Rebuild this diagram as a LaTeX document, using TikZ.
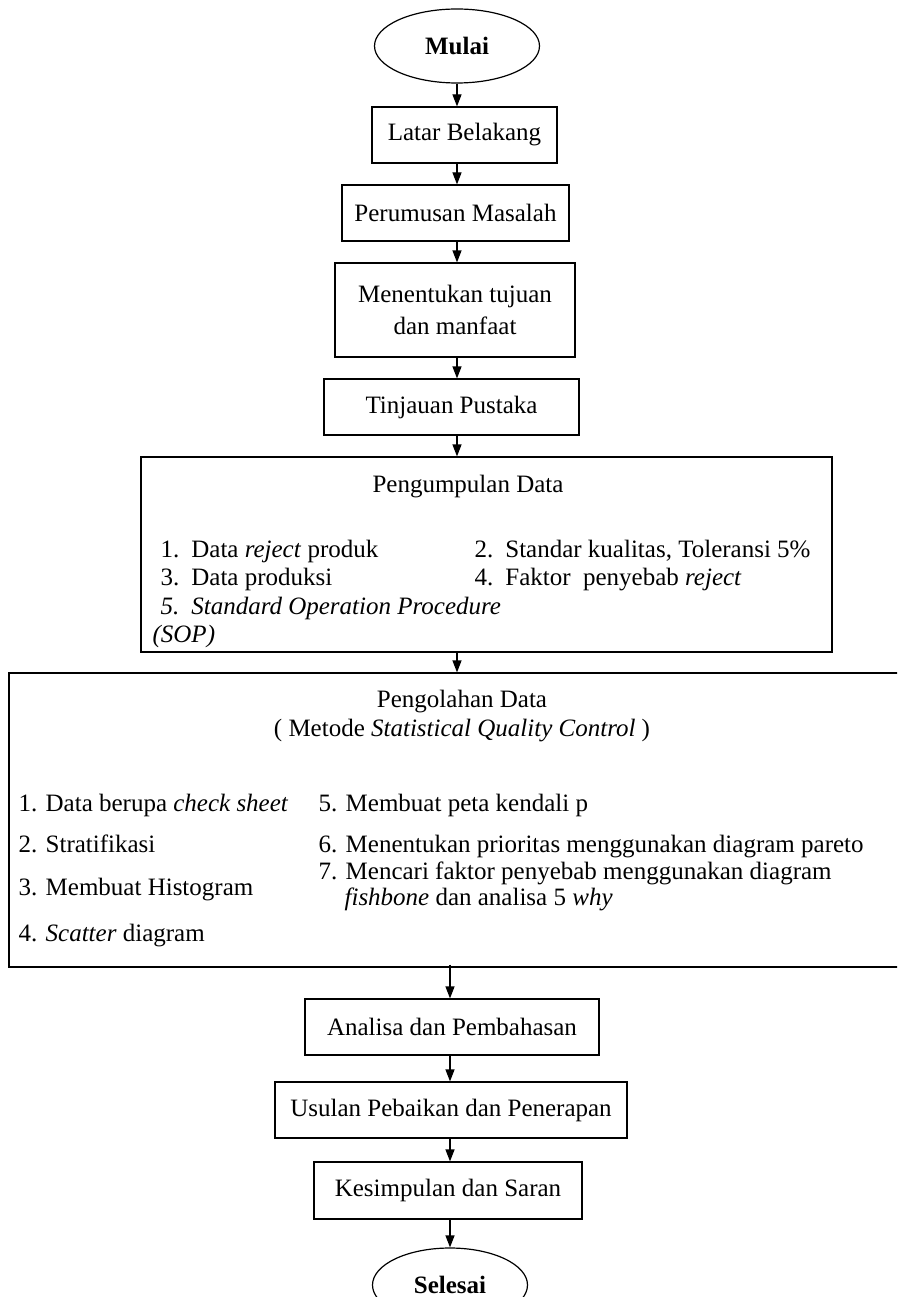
\documentclass[tikz,border=0pt]{standalone}
\usepackage{fontspec}
\setmainfont{Liberation Serif}
\usetikzlibrary{arrows.meta,shapes.geometric}
\begin{document}
\begin{tikzpicture}[x=1pt,y=-1pt,
  line width=1.2pt,
  txt/.style={font=\fontsize{25}{30}\selectfont, inner sep=0pt},
  box/.style={draw, inner sep=0pt, font=\fontsize{25}{30}\selectfont, align=center},
  term/.style={draw, ellipse, inner sep=0pt, font=\bfseries\fontsize{25}{30}\selectfont},
  arr/.style={-{Triangle[width=9pt,length=12pt]}},
  item/.style={anchor=base west, inner sep=0pt, font=\fontsize{25}{30}\selectfont}]
\useasboundingbox (0,0) rectangle (897,1297);
\clip (0,0) rectangle (897,1297);

\node[term, minimum width=165pt, minimum height=74pt] (mulai) at (457,46) {Mulai};
\node[box, minimum width=185pt, minimum height=56pt] (latar) at (464.5,135) {Latar Belakang};
\node[box, minimum width=227pt, minimum height=56pt] (rumus) at (455.5,213) {Perumusan Masalah};
\node[box, minimum width=240pt, minimum height=94pt] (tujuan) at (455,310) {Menentukan tujuan\\[2pt]dan manfaat};
\node[box, minimum width=255pt, minimum height=56pt] (tinjau) at (451.5,407) {Tinjauan Pustaka};

\node[draw, inner sep=0pt, minimum width=691pt, minimum height=195pt] (kumpul) at (486.5,554.5) {};
\node[txt] (kumpult) at (468,487) {Pengumpulan Data};
\node[item] (k1) at (160,557) {1.\hspace{12pt}Data \textit{reject} produk};
\node[item] (k3) at (160,585) {3.\hspace{12pt}Data produksi};
\node[item] (k5) at (160,614) {\textit{5.\hspace{12pt}Standard Operation Procedure}};
\node[item] (k5b) at (152,642) {\textit{(SOP)}};
\node[item] (k2) at (474,557) {2.\hspace{12pt}Standar kualitas, Toleransi 5\%};
\node[item] (k4) at (474,585) {4.\hspace{12pt}Faktor\ \ penyebab \textit{reject}};

\node[draw, inner sep=0pt, minimum width=1000pt, minimum height=294pt] (olah) at (509,820) {};
\node[txt] (olaht) at (462,702) {Pengolahan Data};
\node[txt] (olahs) at (462,731) {( Metode \textit{Statistical Quality Control} )};
\node[item] (o1) at (18,811) {1. Data berupa \textit{check sheet}};
\node[item] (o2) at (18,852) {2. Stratifikasi};
\node[item] (o3) at (18,895) {3. Membuat Histogram};
\node[item] (o4) at (18,941) {4. \textit{Scatter} diagram};
\node[item] (o5) at (318,811) {5. Membuat peta kendali p};
\node[item] (o6) at (318,852) {6. Menentukan prioritas menggunakan diagram pareto};
\node[item] (o7) at (318,879) {7. Mencari faktor penyebab menggunakan diagram};
\node[item] (o7b) at (344,905) {\textit{fishbone} dan analisa 5 \textit{why}};

\node[box, minimum width=294pt, minimum height=56pt] (anal) at (452,1027) {Analisa dan Pembahasan};
\node[box, minimum width=352pt, minimum height=56pt] (usul) at (451,1110) {Usulan Pebaikan dan Penerapan};
\node[box, minimum width=268pt, minimum height=57pt] (simpul) at (448,1190.5) {Kesimpulan dan Saran};
\node[term, minimum width=155pt, minimum height=74pt] (selesai) at (450,1285) {Selesai};

\draw[arr] (mulai.south) -- (latar.north -| mulai.south);
\draw[arr] (latar.south -| mulai.south) -- (rumus.north -| mulai.south);
\draw[arr] (rumus.south -| mulai.south) -- (tujuan.north -| mulai.south);
\draw[arr] (tujuan.south -| mulai.south) -- (tinjau.north -| mulai.south);
\draw[arr] (tinjau.south -| mulai.south) -- (kumpul.north -| mulai.south);
\draw[arr] (kumpul.south -| mulai.south) -- (olah.north -| mulai.south);
\draw[arr] ([yshift=3pt]olah.south -| selesai.north) -- (anal.north -| selesai.north);
\draw[arr] (anal.south -| selesai.north) -- (usul.north -| selesai.north);
\draw[arr] (usul.south -| selesai.north) -- (simpul.north -| selesai.north);
\draw[arr] (simpul.south -| selesai.north) -- (selesai.north);
\end{tikzpicture}
\end{document}
